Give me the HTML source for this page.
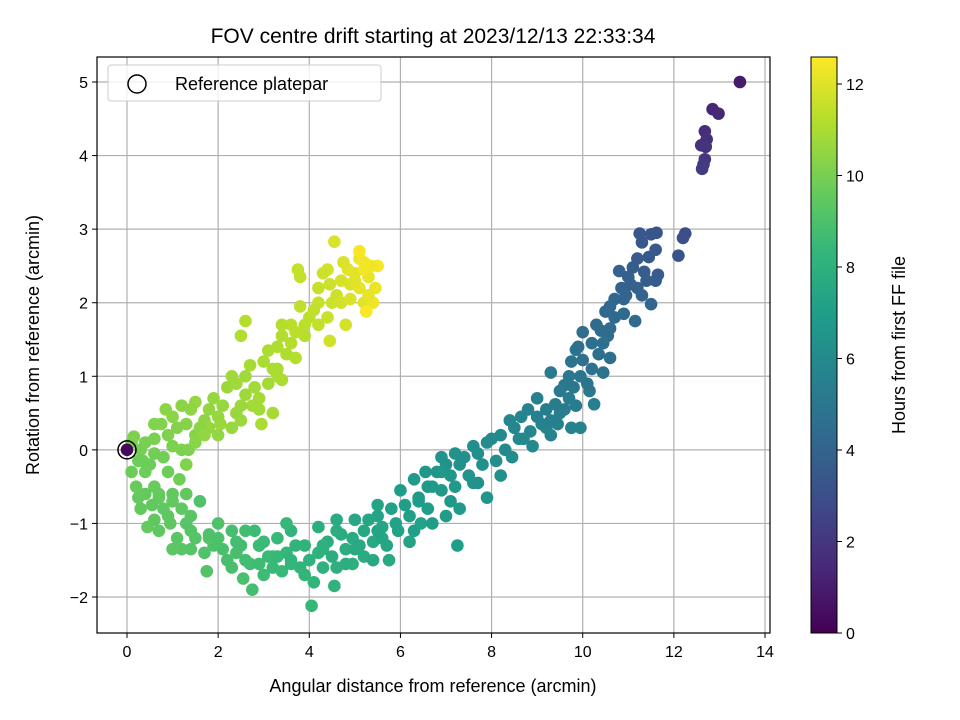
<!DOCTYPE html>
<html><head><meta charset="utf-8"><style>
body{margin:0;background:#fff;}
svg{display:block;font-family:"Liberation Sans","DejaVu Sans",sans-serif;}
</style></head><body>
<svg id="chart" width="960" height="720" viewBox="0 0 960 720" xmlns="http://www.w3.org/2000/svg">
<rect width="960" height="720" fill="#fff"/>
<text x="433" y="43" font-size="21" text-anchor="middle">FOV centre drift starting at 2023/12/13 22:33:34</text>
<g id="grid"></g>
<g id="pts"></g>
<rect x="97" y="57" width="673" height="576" fill="none" stroke="#000" stroke-width="1.2"/>
<g id="axes"></g>
<text x="433" y="692" font-size="18" text-anchor="middle">Angular distance from reference (arcmin)</text>
<text transform="translate(39,345) rotate(-90)" font-size="18" text-anchor="middle">Rotation from reference (arcmin)</text>
<g>
<rect x="108" y="65" width="273" height="36" rx="3" fill="#fff" fill-opacity="0.8" stroke="#ccc"/>
<circle cx="137" cy="84" r="9" fill="none" stroke="#000" stroke-width="1.5"/>
<text x="175" y="90" font-size="18">Reference platepar</text>
</g>
<defs><linearGradient id="vir" x1="0" y1="1" x2="0" y2="0"></linearGradient></defs>
<rect x="811" y="57" width="26" height="576" fill="url(#vir)" stroke="#000" stroke-width="1"/>
<g id="cbax"></g>
<text transform="translate(905,345) rotate(-90)" font-size="18" text-anchor="middle">Hours from first FF file</text>
</svg>
<script>
const xTicks=[0,2,4,6,8,10,12,14];
const yTicks=[-2,-1,0,1,2,3,4,5];
const cTicks=[0,2,4,6,8,10,12];
const refPoint=[0,0];
const xs=[13.45,12.85,12.98,12.68,12.72,12.6,12.7,12.68,12.65,12.62,
12.25,12.2,12.1,11.62,11.5,11.25,11.3,11.6,11.45,11.65,11.6,11.35,11.1,11.0,10.8,11.05,10.85,11.3,10.95,11.5,10.6,10.5,10.7,10.9,11.15,10.4,10.55,10.0,10.45,10.35,10.6,10.0,10.2,9.75,10.45,9.95,9.85,9.7,9.6,9.3,10.15,9.7,9.4,9.85,10.25,9.5,9.2,9.0,9.45,9.75,9.95,9.3,8.65,8.4,8.85,8.6,8.2,8.9,8.3,7.9,8.45,7.6,8.1,7.4,7.8,7.2,7.0,7.5,7.9,6.8,6.55,7.2,6.9,6.3,7.3,7.0,6.0,6.6,7.25,6.2,5.8,6.45,5.95,5.5,6.2,5.6,5.3,5.0,5.75,5.4,4.95,4.6,5.2,4.8,4.4,4.2,4.95,4.6,4.2,4.55,3.9,3.6,4.1,3.8,3.5,4.05,3.3,3.4,3.1,2.8,3.0,2.7,2.5,2.75,2.3,2.2,2.55,1.9,2.0,1.6,1.75,1.5,1.3,1.2,1.0,0.95,0.8,0.55,0.3,0.45,0.2,0.6,0.1,0.4,1.15,0.8,0.3,0.1,0.6,1.0,0.15,1.35,0.75,1.1,1.5,0.85,1.2,1.7,2.0,1.5,1.9,2.4,2.2,2.05,2.6,2.3,2.75,3.1,2.7,3.3,2.95,3.1,3.5,2.5,3.4,3.7,2.6,3.9,3.6,4.0,3.8,4.2,3.75,3.8,4.2,4.4,4.45,4.6,4.45,4.4,4.8,4.7,4.55,4.9,5.0,5.2,4.85,5.1,5.3,5.45,5.1,5.4,5.2,5.5,5.1,5.25,
6.7,6.4,7.1,5.6,5.1,4.3,3.2,2.9,3.6,2.4,1.8,1.4,0.7,0.35,1.0,1.8,2.9,3.3,3.2,2.5,1.3,6.9,7.7,8.7,9.1,
9.0,8.8,9.2,8.5,8.0,7.7,7.3,7.6,8.2,6.9,6.6,7.1,6.4,6.7,6.1,6.3,5.9,5.5,5.7,5.2,5.0,5.4,4.7,4.5,4.8,4.3,4.0,4.3,3.7,3.9,3.6,3.3,3.2,2.9,2.9,2.6,2.4,2.3,2.1,1.8,1.7,1.4,1.4,1.1,0.9,0.7,0.6,0.4,0.25,0.7,1.0,0.5,0.25,0.9,1.3,1.2,3.5,4.6,5.5,2.6,2.0,3.0,
0.4,0.6,0.9,1.3,1.0,1.4,1.6,1.8,1.7,2.1,2.3,2.5,2.4,2.8,2.9,3.2,3.0,3.4,3.3,3.6,3.4,3.7,3.9,4.1,4.2,4.5,4.3,4.7,4.9,5.3,4.75,5.0,5.35,5.2,1.2,0.6,2.6,2.0,1.5,
11.2,11.4,11.2,10.9,10.7,10.3,10.6,10.2,9.9,10.1,9.8,9.5,9.6,9.3,
0.0];
const ys=[5.0,4.63,4.57,4.33,4.22,4.14,4.12,3.95,3.88,3.82,
2.94,2.88,2.64,2.95,2.93,2.94,2.82,2.72,2.62,2.38,2.3,2.42,2.48,2.35,2.43,2.25,2.2,2.1,2.1,1.98,1.95,1.88,1.8,1.85,1.75,1.62,1.55,1.6,1.45,1.3,1.25,1.22,1.1,1.2,1.05,1.0,1.36,1.0,0.88,1.05,0.8,0.7,0.62,0.6,0.62,0.5,0.55,0.45,0.35,0.3,0.3,0.2,0.45,0.4,0.25,0.15,0.2,0.05,0.0,0.1,-0.1,0.05,-0.15,-0.1,-0.2,-0.05,-0.2,-0.35,-0.65,-0.3,-0.3,-0.5,-0.55,-0.4,-0.8,-0.9,-0.55,-0.8,-1.3,-0.9,-0.8,-1.0,-1.1,-0.75,-1.25,-1.05,-0.95,-0.95,-1.5,-1.25,-1.2,-0.95,-1.45,-1.35,-1.25,-1.05,-1.55,-1.6,-1.4,-1.85,-1.3,-1.1,-1.8,-1.6,-1.4,-2.12,-1.2,-1.65,-1.45,-1.1,-1.7,-1.55,-1.3,-1.9,-1.1,-1.5,-1.75,-1.3,-1.0,-0.7,-1.65,-1.2,-1.0,-1.35,-1.35,-1.0,-0.8,-0.75,-0.8,-1.05,-0.5,-0.5,-0.3,-0.3,-0.4,-0.1,0.0,0.1,0.15,0.05,0.18,0.0,0.35,0.3,0.2,0.55,0.6,0.4,0.2,0.65,0.7,0.5,0.85,0.35,0.75,1.0,0.6,0.9,1.15,1.1,0.35,1.35,1.3,1.55,1.55,1.25,1.75,1.55,1.7,1.8,1.95,1.7,2.45,2.35,2.0,1.8,2.25,2.1,1.48,2.45,1.7,2.3,2.83,2.25,2.4,2.0,2.45,2.2,2.35,2.2,2.6,2.0,2.45,2.5,2.7,1.88,
-0.5,-0.7,-0.35,-1.2,-1.3,-1.35,-1.45,-1.3,-1.5,-1.4,-1.2,-0.9,-0.6,-0.15,-0.6,0.3,0.7,1.0,0.5,0.4,-0.2,-0.3,-0.45,0.15,0.35,
0.7,0.55,0.3,0.3,0.15,-0.05,-0.2,-0.45,-0.35,-0.1,-0.5,-0.7,-0.65,-1.0,-0.75,-1.1,-1.0,-1.1,-1.3,-1.1,-1.35,-1.5,-1.15,-1.45,-1.55,-1.6,-1.5,-1.3,-1.3,-1.7,-1.55,-1.45,-1.6,-1.3,-1.55,-1.5,-1.25,-1.6,-1.35,-1.15,-1.4,-1.1,-1.35,-1.2,-0.9,-1.1,-0.95,-0.6,-0.65,-0.65,-0.7,-0.2,-0.15,-0.3,-0.6,-0.8,-1.0,-1.1,-0.9,-1.1,-1.2,-1.25,
0.1,0.35,0.2,0.35,0.45,0.55,0.3,0.55,0.2,0.6,0.3,0.6,0.9,0.85,0.55,1.1,1.2,0.95,1.4,1.45,1.7,1.6,1.7,1.9,2.2,2.0,2.4,2.0,2.05,2.1,2.55,2.3,2.5,2.55,0.0,-0.05,1.0,0.45,0.1,
2.6,2.3,2.2,2.05,2.05,1.7,1.65,1.45,1.4,0.9,0.85,0.8,0.55,0.4,
0.0];
const hrs=[0.9,1.3,1.4,1.6,1.7,1.8,1.9,2.0,2.1,2.2,
3.0,3.1,3.2,3.3,3.35,3.4,3.45,3.5,3.55,3.6,3.65,3.7,3.75,3.8,3.85,3.9,3.95,4.0,4.05,4.1,4.15,4.2,4.25,4.3,4.35,4.4,4.45,4.5,4.55,4.6,4.65,4.7,4.75,4.8,4.85,4.9,4.95,5.0,5.05,5.1,5.15,5.2,5.25,5.3,5.35,5.4,5.45,5.5,5.55,5.6,5.65,5.7,5.75,5.8,5.85,5.9,5.95,6.0,6.05,6.1,6.15,6.2,6.25,6.3,6.35,6.4,6.45,6.5,6.55,6.6,6.65,6.7,6.75,6.8,6.85,6.9,6.95,7.0,7.05,7.1,7.15,7.2,7.25,7.3,7.35,7.4,7.45,7.5,7.55,7.6,7.65,7.7,7.75,7.8,7.85,7.9,7.95,8.0,8.05,8.1,8.15,8.2,8.25,8.3,8.35,8.4,8.45,8.5,8.55,8.6,8.65,8.7,8.75,8.8,8.85,8.9,8.95,9.0,9.05,9.1,9.15,9.2,9.25,9.3,9.35,9.4,9.45,9.5,9.55,9.6,9.65,9.7,9.75,9.8,9.85,9.9,9.95,10.0,10.05,10.1,10.12,10.15,10.2,10.25,10.3,10.35,10.4,10.45,10.5,10.55,10.6,10.65,10.7,10.72,10.75,10.8,10.85,10.9,10.95,11.0,11.02,11.05,11.1,11.12,11.15,11.2,11.22,11.25,11.3,11.35,11.4,11.45,11.5,11.52,11.55,11.6,11.65,11.7,11.72,11.75,11.8,11.85,11.9,11.95,12.0,12.05,12.1,12.15,12.2,12.25,12.3,12.35,12.4,12.45,12.5,12.55,
6.85,7.0,6.6,7.4,7.6,8.0,8.6,8.7,8.3,8.9,9.2,9.3,9.6,9.8,9.5,10.6,10.9,11.0,10.95,10.7,10.2,6.7,6.3,5.9,5.5,
5.5,5.6,5.65,5.8,6.0,6.2,6.35,6.4,6.3,6.5,6.7,6.75,6.85,6.95,7.0,7.1,7.2,7.35,7.4,7.5,7.65,7.6,7.75,7.85,7.9,8.0,8.1,8.0,8.2,8.3,8.35,8.45,8.5,8.6,8.65,8.75,8.8,8.9,8.95,9.05,9.1,9.2,9.25,9.3,9.4,9.45,9.5,9.55,9.6,9.6,9.55,9.8,9.8,9.8,9.5,9.45,8.4,7.8,7.3,8.7,9.0,8.55,
10.0,10.2,10.15,10.3,10.35,10.45,10.4,10.55,10.5,10.6,10.65,10.7,10.8,10.85,10.85,11.0,11.0,11.05,11.1,11.2,11.2,11.3,11.35,11.45,11.55,11.65,11.7,11.8,11.95,12.2,11.9,12.05,12.3,12.4,10.1,9.9,10.8,10.6,10.35,
3.6,3.75,3.9,4.05,4.15,4.35,4.4,4.55,4.6,4.85,5.0,5.1,5.3,5.45,
0.3];
const NS="http://www.w3.org/2000/svg";
const X=v=>127+v*(765-127)/14;
const Y=v=>597-(v+2)*(597-82)/7;
const C=v=>633-v*(633-84)/12;
const hmax=12.6;
const vir=[[68,1,84],[72,40,120],[62,74,137],[49,104,142],[38,130,142],[31,158,137],[53,183,121],[109,205,89],[180,222,44],[253,231,37]];
function col(t){t=Math.max(0,Math.min(1,t));const f=t*9,i=Math.min(8,Math.floor(f)),r=f-i;const a=vir[i],b=vir[i+1];return `rgb(${a.map((c,k)=>Math.round(c+(b[k]-c)*r)).join(',')})`;}
function mk(tag,attrs,parent){const e=document.createElementNS(NS,tag);for(const k in attrs)e.setAttribute(k,attrs[k]);parent.appendChild(e);return e;}
const grid=document.getElementById('grid'),axes=document.getElementById('axes');
xTicks.forEach(t=>{
 const g=mk('line',{x1:X(t),x2:X(t),y1:57,y2:633,stroke:'#b0b0b0','stroke-width':1.2},grid);
 
 
 mk('line',{x1:X(t),x2:X(t),y1:633,y2:638,stroke:'#000'},axes);
 const tx=mk('text',{x:X(t),y:657,'font-size':16,'text-anchor':'middle'},axes);tx.textContent=t;
 
 
});
yTicks.forEach(t=>{
 const g=mk('line',{x1:97,x2:770,y1:Y(t),y2:Y(t),stroke:'#b0b0b0','stroke-width':1.2},grid);
 
 
 mk('line',{x1:92,x2:97,y1:Y(t),y2:Y(t),stroke:'#000'},axes);
 const tx=mk('text',{x:88,y:Y(t)+6,'font-size':16,'text-anchor':'end'},axes);tx.textContent=t<0?'\u2212'+(-t):t;
 
 
});
const pts=document.getElementById('pts');
const n=Math.min(xs.length,ys.length,hrs.length);
for(let i=0;i<n;i++){
 const c=mk('circle',{cx:X(xs[i]),cy:Y(ys[i]),r:6.3,fill:col(hrs[i]/hmax)},pts);
 
 
}
const rc=mk('circle',{cx:X(refPoint[0]),cy:Y(refPoint[1]),r:9,fill:'none',stroke:'#000','stroke-width':1.5},pts);


const grad=document.getElementById('vir');
vir.forEach((c,i)=>mk('stop',{offset:(i/9*100)+'%','stop-color':`rgb(${c.join(',')})`},grad));
const cb=document.getElementById('cbax');
cTicks.forEach(t=>{
 mk('line',{x1:837,x2:842,y1:C(t),y2:C(t),stroke:'#000'},cb);
 const tx=mk('text',{x:846,y:C(t)+6,'font-size':16},cb);tx.textContent=t;
 
 
});
</script>
</body></html>
